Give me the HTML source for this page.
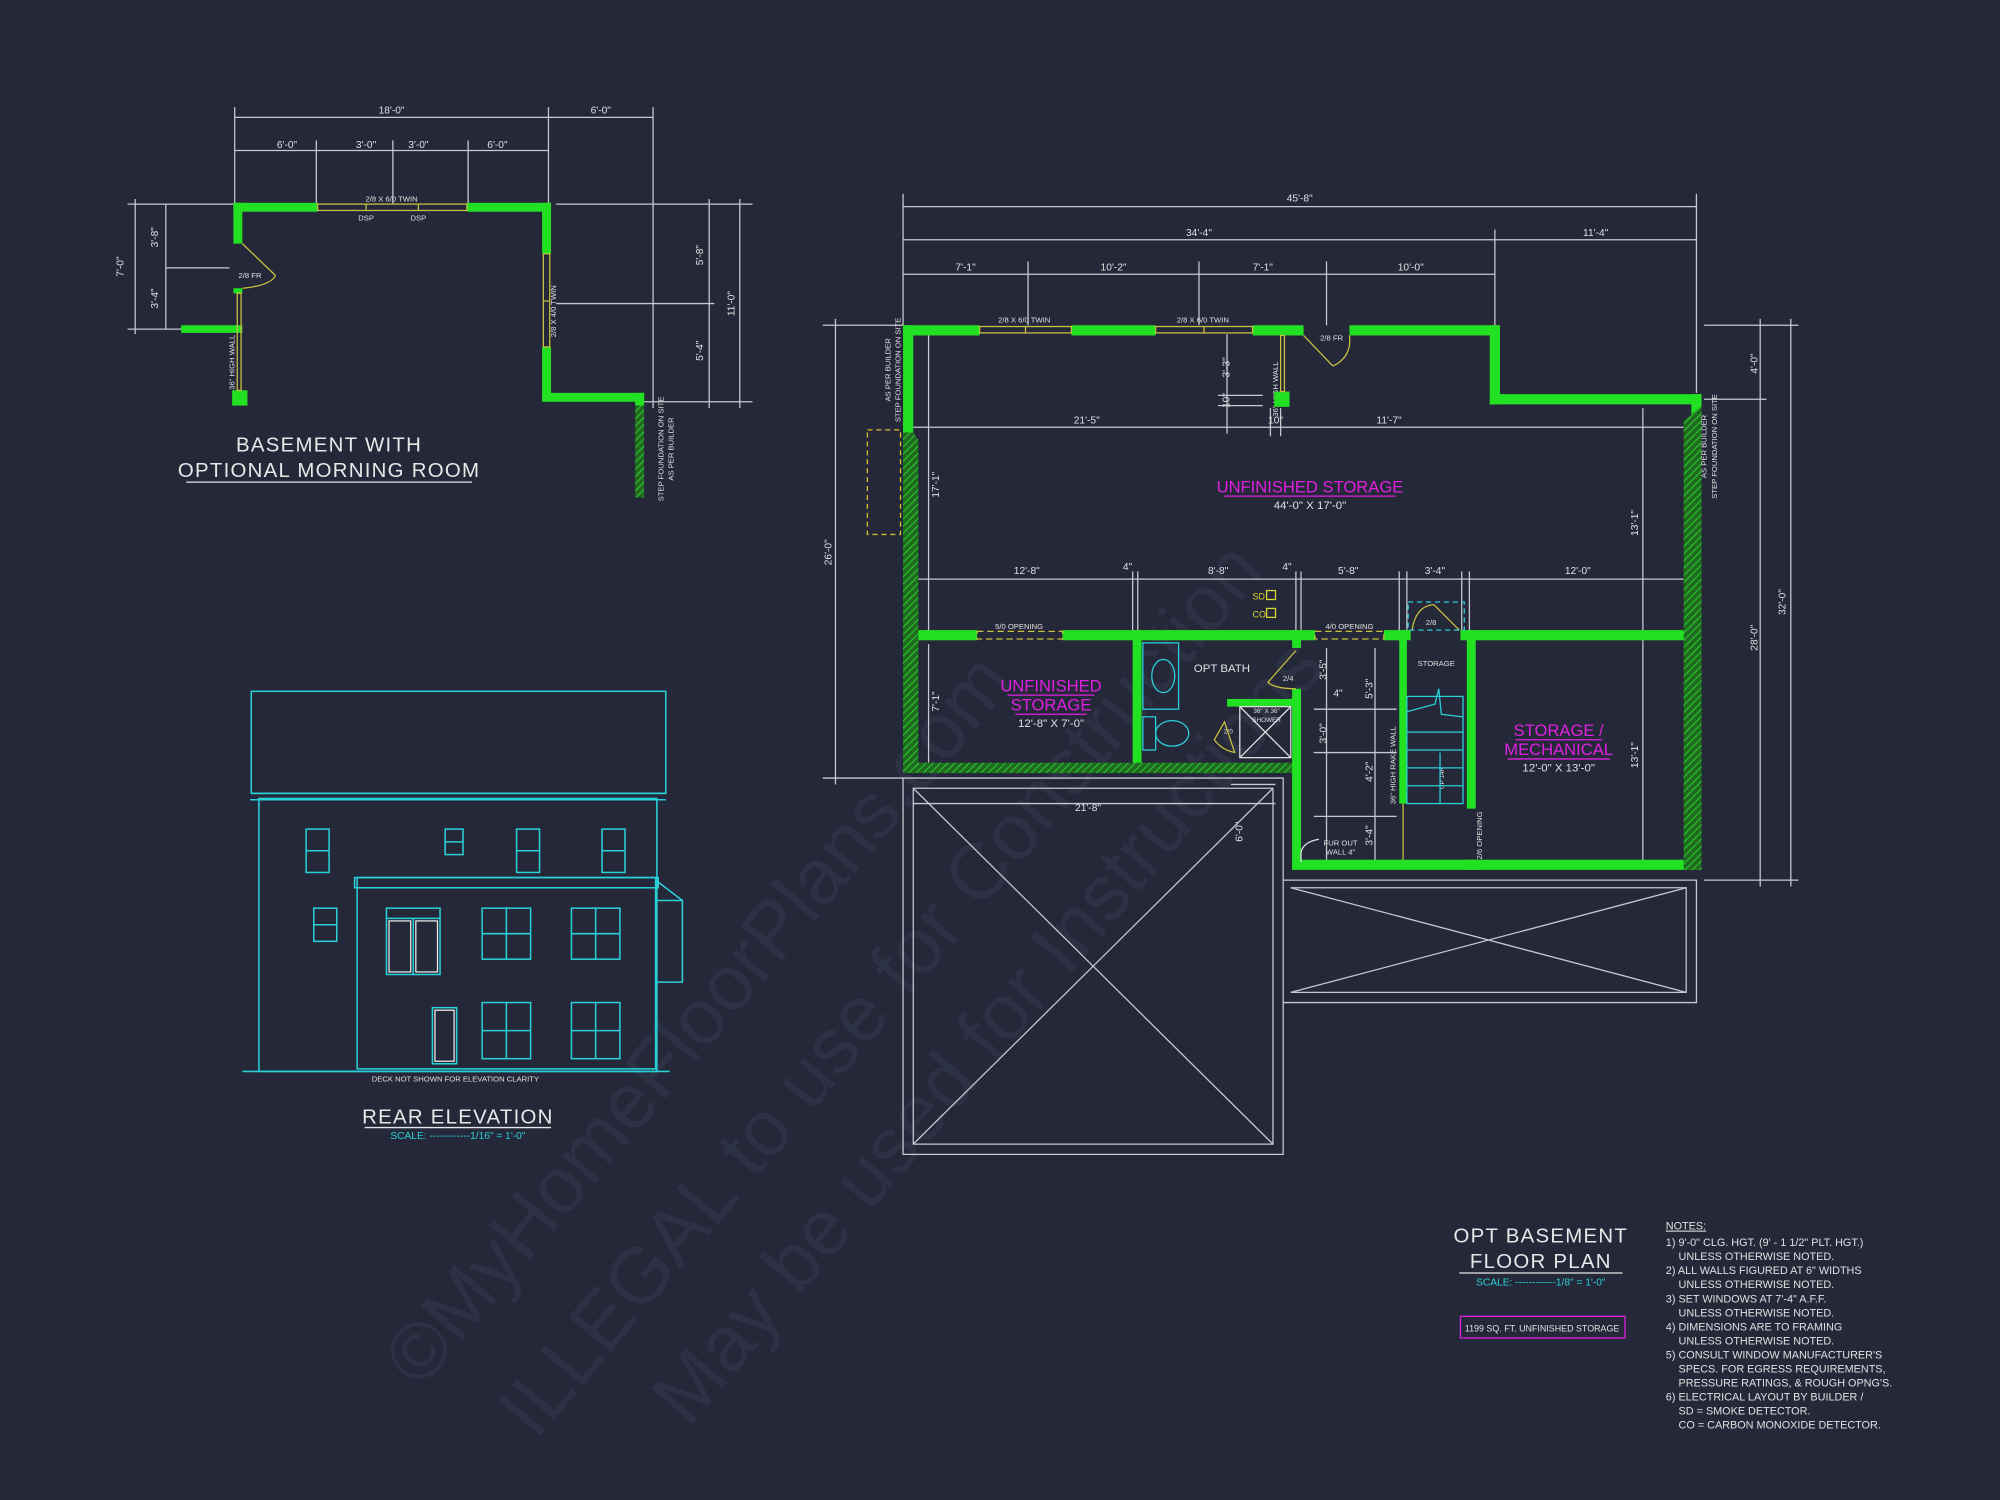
<!DOCTYPE html>
<html><head><meta charset="utf-8"><style>
html,body{margin:0;padding:0;background:#252839;}
svg{display:block}
text{font-family:"Liberation Sans",sans-serif;}
</style></head><body>
<svg width="2000" height="1500" viewBox="0 0 1568 1176" xmlns="http://www.w3.org/2000/svg">
<defs>
<pattern id="h" width="4" height="4" patternUnits="userSpaceOnUse" patternTransform="rotate(45)">
<rect width="4" height="4" fill="#1f6b1f"/><line x1="0" y1="0" x2="0" y2="4" stroke="#30d030" stroke-width="1.5"/></pattern>
</defs>
<rect width="1568" height="1176" fill="#252839"/>

<!-- watermark -->
<g fill="#2f3346" font-family="Liberation Serif,serif" opacity="0.85">
<text x="0" y="0" font-size="62" transform="translate(330,1090) rotate(-50)">©MyHomeFloorPlans.com</text>
<text x="0" y="0" font-size="62" transform="translate(420,1130) rotate(-50)">ILLEGAL to use for Construction</text>
<text x="0" y="0" font-size="62" transform="translate(540,1120) rotate(-50)">May be used for Instructions</text>
</g>

<!-- ===== MORNING ROOM PLAN ===== -->
<g stroke="#c8c8d0" stroke-width="1" fill="none">
<line x1="184" y1="92" x2="512" y2="92"/>
<line x1="184" y1="118" x2="430" y2="118"/>
<line x1="184" y1="84" x2="184" y2="160"/><line x1="430" y1="84" x2="430" y2="160"/><line x1="512" y1="84" x2="512" y2="320"/>
<line x1="248" y1="110" x2="248" y2="160"/><line x1="308" y1="110" x2="308" y2="160"/><line x1="367" y1="110" x2="367" y2="160"/>
<line x1="100" y1="160" x2="184" y2="160"/><line x1="100" y1="258" x2="143" y2="258"/>
<line x1="106" y1="156" x2="106" y2="262"/><line x1="130" y1="160" x2="130" y2="258"/>
<line x1="130" y1="210" x2="180" y2="210"/>
<line x1="436" y1="160" x2="590" y2="160"/><line x1="436" y1="238" x2="560" y2="238"/><line x1="505" y1="315" x2="590" y2="315"/>
<line x1="556" y1="156" x2="556" y2="320"/><line x1="580" y1="156" x2="580" y2="320"/>
</g>
<g fill="#e0e0e0" font-size="8" text-anchor="middle">
<text x="307" y="89">18'-0"</text><text x="471" y="89">6'-0"</text>
<text x="225" y="116">6'-0"</text><text x="287" y="116">3'-0"</text><text x="328" y="116">3'-0"</text><text x="390" y="116">6'-0"</text>
<text transform="translate(97,209) rotate(-90)">7'-0"</text>
<text transform="translate(124,186) rotate(-90)">3'-8"</text><text transform="translate(124,234) rotate(-90)">3'-4"</text>
<text transform="translate(551,200) rotate(-90)">5'-8"</text><text transform="translate(551,275) rotate(-90)">5'-4"</text>
<text transform="translate(576,238) rotate(-90)">11'-0"</text>
<text x="307" y="158" font-size="6">2/8 X 6/0 TWIN</text>
<text x="287" y="173" font-size="6">DSP</text><text x="328" y="173" font-size="6">DSP</text>
<text x="196" y="218" font-size="6">2/8 FR</text>
<text transform="translate(436,244) rotate(-90)" font-size="6">2/8 X 4/0 TWIN</text>
<text transform="translate(184,284) rotate(-90)" font-size="6">36" HIGH WALL</text>
<text transform="translate(520,352) rotate(-90)" font-size="6">STEP FOUNDATION ON SITE</text>
<text transform="translate(528,352) rotate(-90)" font-size="6">AS PER BUILDER</text>
</g>
<g fill="#22e022">
<rect x="183" y="159" width="66" height="7"/><rect x="366" y="159" width="66" height="7"/>
<rect x="425" y="159" width="7" height="40"/><rect x="425" y="272" width="7" height="42"/>
<rect x="425" y="308" width="80" height="7"/><rect x="498" y="308" width="7" height="10"/>
<rect x="183" y="159" width="7" height="32"/><rect x="183" y="226" width="7" height="4"/>
<rect x="142" y="255" width="48" height="6"/>
<rect x="182" y="306" width="12" height="12"/>
</g>
<rect x="498" y="318" width="7" height="72" fill="url(#h)"/>
<g stroke="#c8c040" stroke-width="1" fill="none">
<rect x="249" y="160" width="117" height="5"/><line x1="287" y1="160" x2="287" y2="165"/><line x1="328" y1="160" x2="328" y2="165"/>
<rect x="426" y="199" width="5" height="73"/><line x1="426" y1="236" x2="431" y2="236"/>
<path d="M190 191 L216 216 M190 226 Q212 224 216 216"/>
<rect x="186" y="230" width="3" height="76"/>
</g>
<g fill="#e8e8e8" text-anchor="middle" font-size="16">
<text x="258" y="354" letter-spacing="1">BASEMENT WITH</text>
<text x="258" y="374" letter-spacing="1">OPTIONAL MORNING ROOM</text>
</g>
<line x1="146" y1="378" x2="370" y2="378" stroke="#e8e8e8" stroke-width="1"/>

<!-- ===== REAR ELEVATION ===== -->
<g stroke="#2ad0d8" stroke-width="1.2" fill="none">
<rect x="197" y="542" width="325" height="80"/>
<line x1="197" y1="622" x2="522" y2="622"/>
<rect x="203" y="626" width="312" height="214"/>
<line x1="196" y1="627" x2="522" y2="627"/>
<rect x="280" y="688" width="234" height="150"/>
<rect x="278" y="688" width="238" height="8"/>
<path d="M514 690 L535 706 L535 770 L514 770"/><line x1="514" y1="706" x2="535" y2="706"/>
<line x1="190" y1="840" x2="525" y2="840"/>
<rect x="240" y="650" width="18" height="34"/><line x1="240" y1="667" x2="258" y2="667"/>
<rect x="349" y="650" width="14" height="20"/><line x1="349" y1="660" x2="363" y2="660"/>
<rect x="405" y="650" width="18" height="34"/><line x1="405" y1="667" x2="423" y2="667"/>
<rect x="472" y="650" width="18" height="34"/><line x1="472" y1="667" x2="490" y2="667"/>
<rect x="246" y="712" width="18" height="26"/><line x1="246" y1="725" x2="264" y2="725"/>
<rect x="303" y="712" width="42" height="52"/><line x1="303" y1="720" x2="345" y2="720"/><line x1="324" y1="720" x2="324" y2="764"/>
<rect x="378" y="712" width="38" height="40"/><line x1="397" y1="712" x2="397" y2="752"/><line x1="378" y1="732" x2="416" y2="732"/>
<rect x="448" y="712" width="38" height="40"/><line x1="467" y1="712" x2="467" y2="752"/><line x1="448" y1="732" x2="486" y2="732"/>
<rect x="378" y="786" width="38" height="44"/><line x1="397" y1="786" x2="397" y2="830"/><line x1="378" y1="808" x2="416" y2="808"/>
<rect x="448" y="786" width="38" height="44"/><line x1="467" y1="786" x2="467" y2="830"/><line x1="448" y1="808" x2="486" y2="808"/>
<rect x="339" y="790" width="19" height="44"/>
</g>
<g stroke="#e8e8e8" stroke-width="1" fill="none">
<rect x="305" y="722" width="17" height="40"/><rect x="326" y="722" width="17" height="40"/>
<rect x="341" y="792" width="15" height="40"/>
</g>
<text x="357" y="848" fill="#e0e0e0" font-size="6" text-anchor="middle">DECK NOT SHOWN FOR ELEVATION CLARITY</text>
<text x="359" y="881" fill="#e8e8e8" font-size="16" text-anchor="middle" letter-spacing="1">REAR ELEVATION</text>
<line x1="286" y1="884" x2="432" y2="884" stroke="#e8e8e8"/>
<text x="359" y="893" fill="#2ad0d8" font-size="8" text-anchor="middle">SCALE: ------------1/16" = 1'-0"</text>

<!-- ===== MAIN PLAN dimensions ===== -->
<g stroke="#c8c8d0" stroke-width="1" fill="none">
<line x1="708" y1="162" x2="1330" y2="162"/><line x1="708" y1="188" x2="1330" y2="188"/><line x1="708" y1="215" x2="1172" y2="215"/>
<line x1="708" y1="152" x2="708" y2="255"/><line x1="1330" y1="152" x2="1330" y2="308"/><line x1="1172" y1="180" x2="1172" y2="255"/>
<line x1="806" y1="205" x2="806" y2="255"/><line x1="940" y1="205" x2="940" y2="255"/><line x1="1040" y1="205" x2="1040" y2="255"/>
<line x1="645" y1="255" x2="708" y2="255"/><line x1="645" y1="610" x2="708" y2="610"/><line x1="655" y1="250" x2="655" y2="615"/>
<line x1="1336" y1="255" x2="1410" y2="255"/><line x1="1336" y1="690" x2="1410" y2="690"/><line x1="1336" y1="313" x2="1385" y2="313"/>
<line x1="1380" y1="250" x2="1380" y2="695"/><line x1="1404" y1="250" x2="1404" y2="695"/>
<line x1="716" y1="335" x2="1320" y2="335"/><line x1="728" y1="262" x2="728" y2="495"/>
<line x1="962" y1="262" x2="962" y2="340"/><line x1="996" y1="320" x2="996" y2="342"/><line x1="1004" y1="320" x2="1004" y2="342"/>
<line x1="955" y1="310" x2="990" y2="310"/><line x1="955" y1="318" x2="990" y2="318"/>
<line x1="720" y1="454" x2="1320" y2="454"/>
<line x1="888" y1="448" x2="888" y2="498"/><line x1="892" y1="448" x2="892" y2="498"/><line x1="1016" y1="448" x2="1016" y2="498"/><line x1="1020" y1="448" x2="1020" y2="498"/>
<line x1="1097" y1="448" x2="1097" y2="498"/><line x1="1103" y1="448" x2="1103" y2="498"/><line x1="1146" y1="448" x2="1146" y2="498"/><line x1="1152" y1="448" x2="1152" y2="498"/>
<line x1="1288" y1="320" x2="1288" y2="680"/>
<line x1="728" y1="505" x2="728" y2="598"/>
<line x1="716" y1="630" x2="1000" y2="630"/>
<line x1="1040" y1="508" x2="1040" y2="680"/><line x1="1078" y1="508" x2="1078" y2="680"/>
<line x1="1030" y1="556" x2="1095" y2="556"/><line x1="1030" y1="590" x2="1095" y2="590"/><line x1="1030" y1="640" x2="1095" y2="640"/>
<line x1="965" y1="615" x2="1000" y2="615"/>
</g>
<g fill="#e0e0e0" font-size="8" text-anchor="middle">
<text x="1019" y="158">45'-8"</text><text x="940" y="185">34'-4"</text><text x="1251" y="185">11'-4"</text>
<text x="757" y="212">7'-1"</text><text x="873" y="212">10'-2"</text><text x="990" y="212">7'-1"</text><text x="1106" y="212">10'-0"</text>
<text transform="translate(652,433) rotate(-90)">26'-0"</text>
<text transform="translate(1378,285) rotate(-90)">4'-0"</text><text transform="translate(1378,500) rotate(-90)">28'-0"</text><text transform="translate(1400,472) rotate(-90)">32'-0"</text>
<text x="852" y="332">21'-5"</text><text x="1000" y="332">10"</text><text x="1089" y="332">11'-7"</text>
<text transform="translate(964,288) rotate(-90)">3'-3"</text><text transform="translate(964,314) rotate(-90)">10"</text>
<text transform="translate(736,380) rotate(-90)">17'-1"</text>
<text x="805" y="450">12'-8"</text><text x="884" y="447">4"</text><text x="955" y="450">8'-8"</text><text x="1009" y="447">4"</text><text x="1057" y="450">5'-8"</text><text x="1125" y="450">3'-4"</text><text x="1237" y="450">12'-0"</text>
<text transform="translate(1284,410) rotate(-90)">13'-1"</text><text transform="translate(1284,592) rotate(-90)">13'-1"</text>
<text transform="translate(736,550) rotate(-90)">7'-1"</text>
<text x="853" y="636">21'-8"</text><text transform="translate(974,652) rotate(-90)">6'-0"</text>
<text transform="translate(1040,525) rotate(-90)">3'-5"</text><text transform="translate(1076,540) rotate(-90)">5'-3"</text>
<text transform="translate(1040,575) rotate(-90)">3'-0"</text><text transform="translate(1076,605) rotate(-90)">4'-2"</text><text transform="translate(1076,655) rotate(-90)">3'-4"</text>
<text x="1049" y="546">4"</text>
<text x="803" y="253" font-size="6">2/8 X 6/0 TWIN</text><text x="943" y="253" font-size="6">2/8 X 6/0 TWIN</text>
<text x="1044" y="267" font-size="6">2/8 FR</text>
<text transform="translate(1002,305) rotate(-90)" font-size="6">36" HIGH WALL</text>
<text transform="translate(698,290) rotate(-90)" font-size="6">AS PER BUILDER</text><text transform="translate(706,290) rotate(-90)" font-size="6">STEP FOUNDATION ON SITE</text>
<text transform="translate(1338,350) rotate(-90)" font-size="6">AS PER BUILDER</text><text transform="translate(1346,350) rotate(-90)" font-size="6">STEP FOUNDATION ON SITE</text>
<text x="799" y="493" font-size="6">5/0 OPENING</text><text x="1058" y="493" font-size="6">4/0 OPENING</text>
<text x="958" y="527" font-size="9">OPT BATH</text><text x="1126" y="522" font-size="6">STORAGE</text>
<text x="1010" y="534" font-size="6">2/4</text><text x="1122" y="490" font-size="6">2/8</text>
<text x="993" y="559" font-size="5">36" X 36"</text><text x="993" y="566" font-size="5">SHOWER</text>
<text x="963" y="575" font-size="5">2/0</text>
<text transform="translate(1094,600) rotate(-90)" font-size="6">36" HIGH RAKE WALL</text>
<text transform="translate(1132,610) rotate(-90)" font-size="5">UP 14R</text>
<text transform="translate(1162,655) rotate(-90)" font-size="6">2/6 OPENING</text>
<text x="1051" y="663" font-size="6">FUR OUT</text><text x="1051" y="670" font-size="6">WALL 4"</text>
</g>
<g fill="#d8d830" font-size="7"><text x="982" y="470">SD</text><text x="982" y="484">CO</text></g>
<rect x="993" y="463" width="7" height="7" fill="none" stroke="#d8d830"/><rect x="993" y="477" width="7" height="7" fill="none" stroke="#d8d830"/>

<!-- garage -->
<g stroke="#c8c8d0" stroke-width="1" fill="none">
<path d="M708 610 L1006 610 L1006 905 L708 905 Z"/><path d="M716 618 L998 618 L998 897 L716 897 Z"/>
<line x1="716" y1="618" x2="998" y2="897"/><line x1="998" y1="618" x2="716" y2="897"/>
<path d="M1006 690 L1330 690 L1330 786 L1006 786"/><path d="M1012 696 L1322 696 L1322 778 L1012 778"/>
<line x1="1012" y1="696" x2="1322" y2="778"/><line x1="1322" y1="696" x2="1012" y2="778"/>
</g>
<rect x="680" y="337" width="26" height="82" fill="none" stroke="#d8c030" stroke-dasharray="4,3"/>

<!-- walls -->
<g fill="#22e022">
<rect x="708" y="255" width="60" height="8"/><rect x="840" y="255" width="66" height="8"/><rect x="982" y="255" width="40" height="8"/><rect x="1058" y="255" width="118" height="8"/>
<rect x="1168" y="255" width="8" height="62"/><rect x="1168" y="309" width="166" height="8"/><rect x="1326" y="309" width="8" height="30"/>
<rect x="708" y="255" width="8" height="90"/>
<rect x="716" y="494" width="50" height="8"/><rect x="833" y="494" width="198" height="8"/><rect x="1085" y="494" width="21" height="8"/><rect x="1145" y="494" width="176" height="8"/>
<rect x="888" y="494" width="7" height="106"/><rect x="1013" y="494" width="7" height="14"/><rect x="1013" y="540" width="7" height="140"/>
<rect x="962" y="548" width="55" height="6"/>
<rect x="1097" y="494" width="6" height="16"/><rect x="1097" y="510" width="6" height="120"/>
<rect x="1150" y="494" width="7" height="140"/><rect x="1150" y="674" width="7" height="8"/>
<rect x="1013" y="674" width="320" height="8"/>
<rect x="999" y="307" width="12" height="12"/>
</g>
<path d="M708 339 L716 339 L720 345 L720 598 L1013 598 L1013 606 L708 606 Z" fill="url(#h)"/>
<path d="M1320 330 L1334 318 L1334 682 L1320 682 Z" fill="url(#h)"/>
<g stroke="#c8c040" stroke-width="1" fill="none">
<rect x="768" y="256" width="72" height="5"/><line x1="804" y1="256" x2="804" y2="261"/>
<rect x="906" y="256" width="76" height="5"/><line x1="944" y1="256" x2="944" y2="261"/>
<path d="M1022 263 L1045 287 M1058 263 Q1060 280 1045 287"/>
<rect x="1004" y="263" width="3" height="44"/>
<rect x="766" y="495" width="67" height="6" stroke-dasharray="5,3"/><rect x="1031" y="495" width="54" height="6" stroke-dasharray="5,3"/>
<path d="M1016 510 L994 535 Q1000 540 1016 540"/>
<path d="M1107 494 Q1110 475 1124 474 L1144 494"/>
<path d="M960 566 L968 590 Q958 588 952 580 Z"/>
<line x1="1100" y1="630" x2="1100" y2="674"/>
</g>
<rect x="1104" y="472" width="44" height="22" fill="none" stroke="#2ad0d8" stroke-dasharray="4,3"/>
<g stroke="#2ad0d8" stroke-width="1" fill="none">
<rect x="896" y="504" width="28" height="52"/><ellipse cx="912" cy="530" rx="9" ry="13"/>
<rect x="896" y="562" width="10" height="26"/><ellipse cx="919" cy="575" rx="13" ry="10"/>
<rect x="1103" y="546" width="44" height="84"/>
<path d="M1103 558 L1125 552 L1128 540 L1130 560 L1147 562"/>
<line x1="1103" y1="574" x2="1147" y2="574"/><line x1="1103" y1="588" x2="1147" y2="588"/><line x1="1103" y1="602" x2="1147" y2="602"/><line x1="1103" y1="616" x2="1147" y2="616"/>
<line x1="1129" y1="630" x2="1129" y2="590"/>
</g>
<g stroke="#e0e0e0" stroke-width="1" fill="none">
<rect x="972" y="554" width="40" height="40"/><line x1="972" y1="554" x2="1012" y2="594"/><line x1="1012" y1="554" x2="972" y2="594"/>
<path d="M1020 676 L1020 668 Q1022 660 1034 658"/>
</g>

<!-- room labels -->
<g text-anchor="middle">
<text x="1027" y="386" fill="#e020e0" font-size="13">UNFINISHED STORAGE</text>
<line x1="960" y1="389" x2="1094" y2="389" stroke="#e020e0"/>
<text x="1027" y="399" fill="#e0e0e0" font-size="9">44'-0" X 17'-0"</text>
<text x="824" y="542" fill="#e020e0" font-size="13">UNFINISHED</text><line x1="790" y1="545" x2="858" y2="545" stroke="#e020e0"/>
<text x="824" y="557" fill="#e020e0" font-size="13">STORAGE</text><line x1="796" y1="560" x2="852" y2="560" stroke="#e020e0"/>
<text x="824" y="570" fill="#e0e0e0" font-size="9">12'-8" X 7'-0"</text>
<text x="1222" y="577" fill="#e020e0" font-size="13">STORAGE /</text><line x1="1188" y1="580" x2="1256" y2="580" stroke="#e020e0"/>
<text x="1222" y="592" fill="#e020e0" font-size="13">MECHANICAL</text><line x1="1182" y1="595" x2="1262" y2="595" stroke="#e020e0"/>
<text x="1222" y="605" fill="#e0e0e0" font-size="9">12'-0" X 13'-0"</text>
</g>

<!-- title -->
<g text-anchor="middle" fill="#e8e8e8" font-size="16" letter-spacing="1">
<text x="1208" y="974">OPT BASEMENT</text><text x="1208" y="994">FLOOR PLAN</text>
</g>
<line x1="1144" y1="998" x2="1272" y2="998" stroke="#e8e8e8"/>
<text x="1208" y="1008" fill="#2ad0d8" font-size="8" text-anchor="middle">SCALE: ------------1/8" = 1'-0"</text>
<rect x="1145" y="1032" width="129" height="17" fill="none" stroke="#e020e0"/>
<text x="1209" y="1044" fill="#e0e0e0" font-size="7" text-anchor="middle">1199 SQ. FT. UNFINISHED STORAGE</text>

<!-- notes -->
<g fill="#e0e0e0" font-size="8.5">
<text x="1306" y="964" text-decoration="underline">NOTES:</text>
<text x="1306" y="977">1) 9'-0"  CLG. HGT. (9' - 1 1/2" PLT. HGT.)</text>
<text x="1316" y="988">UNLESS OTHERWISE NOTED.</text>
<text x="1306" y="999">2) ALL  WALLS FIGURED AT 6" WIDTHS</text>
<text x="1316" y="1010">UNLESS OTHERWISE NOTED.</text>
<text x="1306" y="1021">3) SET WINDOWS AT 7'-4" A.F.F.</text>
<text x="1316" y="1032">UNLESS OTHERWISE NOTED.</text>
<text x="1306" y="1043">4) DIMENSIONS ARE TO FRAMING</text>
<text x="1316" y="1054">UNLESS OTHERWISE NOTED.</text>
<text x="1306" y="1065">5) CONSULT WINDOW MANUFACTURER'S</text>
<text x="1316" y="1076">SPECS. FOR EGRESS REQUIREMENTS,</text>
<text x="1316" y="1087">PRESSURE RATINGS, &amp; ROUGH OPNG'S.</text>
<text x="1306" y="1098">6) ELECTRICAL LAYOUT BY BUILDER /</text>
<text x="1316" y="1109">SD = SMOKE DETECTOR.</text>
<text x="1316" y="1120">CO = CARBON MONOXIDE DETECTOR.</text>
</g>
</svg>
</body></html>
